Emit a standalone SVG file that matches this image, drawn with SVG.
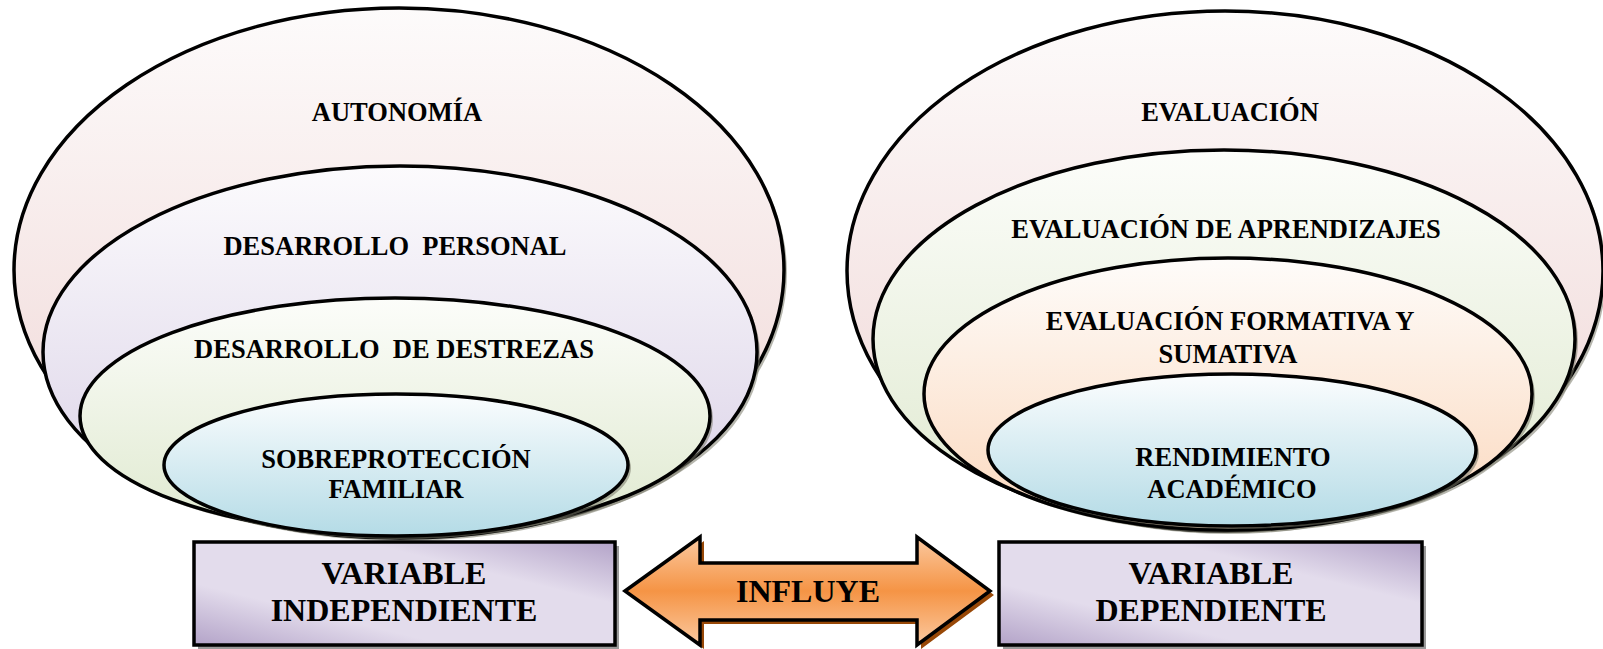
<svg xmlns="http://www.w3.org/2000/svg" width="1603" height="649" viewBox="0 0 1603 649">
<defs>
<linearGradient id="gPink" x1="0" y1="0" x2="0" y2="1"><stop offset="0" stop-color="#fdfbfb"/><stop offset="1" stop-color="#efd5d4"/></linearGradient>
<linearGradient id="gLav" x1="0" y1="0" x2="0" y2="1"><stop offset="0" stop-color="#fcfbfd"/><stop offset="1" stop-color="#d9d0e6"/></linearGradient>
<linearGradient id="gGreen" x1="0" y1="0" x2="0" y2="1"><stop offset="0" stop-color="#fcfdfa"/><stop offset="1" stop-color="#dfe9cf"/></linearGradient>
<linearGradient id="gPeach" x1="0" y1="0" x2="0" y2="1"><stop offset="0" stop-color="#fefcfa"/><stop offset="1" stop-color="#fbd8bd"/></linearGradient>
<linearGradient id="gBlue" x1="0" y1="0" x2="0" y2="1"><stop offset="0" stop-color="#fbfdfe"/><stop offset="1" stop-color="#b4dbe6"/></linearGradient>
<linearGradient id="gBox" x1="0" y1="1" x2="1" y2="0"><stop offset="0" stop-color="#b3a3c8"/><stop offset="0.3" stop-color="#e3dcec"/><stop offset="0.7" stop-color="#e3dcec"/><stop offset="1" stop-color="#b3a3c8"/></linearGradient>
<linearGradient id="gArrow" x1="0" y1="0" x2="0" y2="1"><stop offset="0" stop-color="#fbc9a0"/><stop offset="0.5" stop-color="#f59445"/><stop offset="1" stop-color="#fbc9a0"/></linearGradient>
</defs>
<style>
.e{stroke:#000;stroke-width:3.5}
.sh{fill:#7a7a6a;opacity:0.55}
.t{font-family:"Liberation Serif","Times New Roman",serif;font-weight:bold;font-size:26.5px;fill:#000;text-anchor:middle}
.tb{font-family:"Liberation Serif","Times New Roman",serif;font-weight:bold;font-size:32px;fill:#000;text-anchor:middle}
.box{fill:url(#gBox);stroke:#000;stroke-width:3.5}
.bsh{fill:#9a9a9a}
</style>

<g id="left-outer"><ellipse class="sh" cx="402" cy="273" rx="385" ry="262"/><ellipse class="e" cx="399" cy="270" rx="385" ry="262" fill="url(#gPink)"/><text class="t" x="397" y="121">AUTONOMÍA</text></g>
<g id="left-second"><ellipse class="sh" cx="403" cy="355" rx="357" ry="186"/><ellipse class="e" cx="400" cy="352" rx="357" ry="186" fill="url(#gLav)"/><text class="t" x="395" y="255" xml:space="preserve">DESARROLLO  PERSONAL</text></g>
<g id="left-third"><ellipse class="sh" cx="398" cy="419" rx="315" ry="118"/><ellipse class="e" cx="395" cy="416" rx="315" ry="118" fill="url(#gGreen)"/><text class="t" x="394" y="358" xml:space="preserve">DESARROLLO  DE DESTREZAS</text></g>
<g id="left-inner"><ellipse class="sh" cx="399" cy="468" rx="232" ry="71"/><ellipse class="e" cx="396" cy="465" rx="232" ry="71" fill="url(#gBlue)"/><text class="t" x="396" y="468">SOBREPROTECCIÓN</text><text class="t" x="396" y="498">FAMILIAR</text></g>

<g id="right-outer"><ellipse class="sh" cx="1228" cy="274" rx="378" ry="260"/><ellipse class="e" cx="1225" cy="271" rx="378" ry="260" fill="url(#gPink)"/><text class="t" x="1230" y="121">EVALUACIÓN</text></g>
<g id="right-second"><ellipse class="sh" cx="1227" cy="342" rx="351" ry="189"/><ellipse class="e" cx="1224" cy="339" rx="351" ry="189" fill="url(#gGreen)"/><text class="t" x="1226" y="238">EVALUACIÓN DE APRENDIZAJES</text></g>
<g id="right-third"><ellipse class="sh" cx="1231" cy="397" rx="304" ry="136"/><ellipse class="e" cx="1228" cy="394" rx="304" ry="136" fill="url(#gPeach)"/><text class="t" x="1230" y="330">EVALUACIÓN FORMATIVA Y</text><text class="t" x="1228" y="363">SUMATIVA</text></g>
<g id="right-inner"><ellipse class="sh" cx="1235" cy="453" rx="244" ry="76"/><ellipse class="e" cx="1232" cy="450" rx="244" ry="76" fill="url(#gBlue)"/><text class="t" x="1233" y="466">RENDIMIENTO</text><text class="t" x="1232" y="498">ACADÉMICO</text></g>

<g id="box-independiente"><rect class="bsh" x="198" y="546" width="421" height="104"/><rect class="box" x="194" y="542" width="421" height="103"/><text class="tb" x="404" y="584">VARIABLE</text><text class="tb" x="404" y="621">INDEPENDIENTE</text></g>
<g id="box-dependiente"><rect class="bsh" x="1003" y="546" width="423" height="104"/><rect class="box" x="999" y="542" width="423" height="103"/><text class="tb" x="1211" y="584">VARIABLE</text><text class="tb" x="1211" y="621">DEPENDIENTE</text></g>

<g id="connectors">
<polygon points="629,595 704,541 704,567 921,567 921,541 994,595 921,649 921,624 704,624 704,649" fill="#984807"/>
<polygon points="625,591 700,537 700,563 917,563 917,537 990,591 917,645 917,620 700,620 700,645" fill="url(#gArrow)" stroke="#000" stroke-width="3.5" stroke-linejoin="miter"/>
<text class="tb" x="808" y="602">INFLUYE</text>
</g>
</svg>
